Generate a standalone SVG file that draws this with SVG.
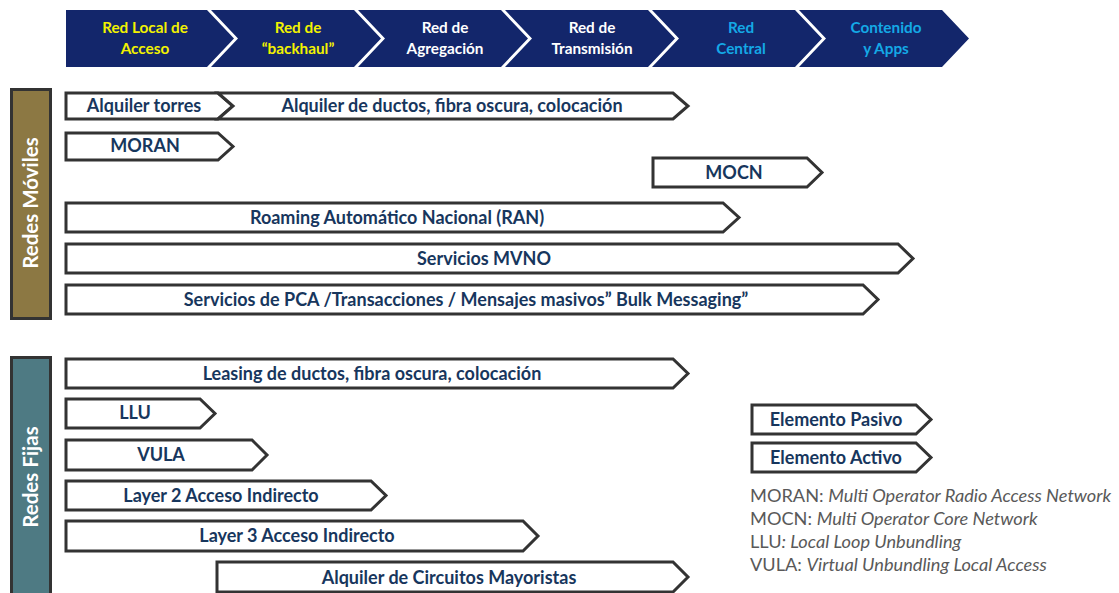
<svg xmlns="http://www.w3.org/2000/svg" width="1119" height="593" viewBox="0 0 1119 593">
<style>
.chev{fill:#13266b}
.ht{font-family:Lato,"Open Sans",sans-serif;font-weight:bold;font-size:15.3px;text-anchor:middle}
.y{fill:#f2f200}.w{fill:#ffffff}.c{fill:#14a9e6}
.box{fill:#ffffff;stroke:#333333;stroke-width:3;stroke-linejoin:miter}
.bt{font-family:Lato,"Open Sans",sans-serif;font-weight:bold;font-size:18px;fill:#17365d;text-anchor:middle}
.side{stroke:#333333;stroke-width:3}
.st{font-family:Lato,"Open Sans",sans-serif;font-weight:bold;font-size:20.5px;fill:#ffffff;text-anchor:middle}
.lg{font-family:Lato,"Open Sans",sans-serif;font-size:18.2px;fill:#595959}
.lg tspan.i{font-style:italic}
</style>
<rect width="1119" height="593" fill="#ffffff"/>
<g id="header">
<polygon class="chev" points="66,10 207,10 234,38.5 207,67 66,67"/>
<polygon class="chev" points="211,10 354,10 381,38.5 354,67 211,67 238,38.5"/>
<polygon class="chev" points="358,10 501,10 528,38.5 501,67 358,67 385,38.5"/>
<polygon class="chev" points="505,10 648,10 675,38.5 648,67 505,67 532,38.5"/>
<polygon class="chev" points="652,10 795,10 822,38.5 795,67 652,67 679,38.5"/>
<polygon class="chev" points="799,10 942,10 969,38.5 942,67 799,67 826,38.5"/>
<text class="ht y" x="145" y="33">Red Local de</text><text class="ht y" x="145" y="54">Acceso</text>
<text class="ht y" x="298" y="33">Red de</text><text class="ht y" x="298" y="54">“backhaul”</text>
<text class="ht w" x="445" y="33">Red de</text><text class="ht w" x="445" y="54">Agregación</text>
<text class="ht w" x="592" y="33">Red de</text><text class="ht w" x="592" y="54">Transmisión</text>
<text class="ht c" x="741" y="33">Red</text><text class="ht c" x="741" y="54">Central</text>
<text class="ht c" x="886" y="33">Contenido</text><text class="ht c" x="886" y="54">y Apps</text>
</g>
<g id="redes-moviles">
<rect class="side" x="11.5" y="89.5" width="39" height="229" fill="#8c7843"/>
<text class="st" transform="translate(38,203) rotate(-90)">Redes Móviles</text>
</g>
<g id="redes-fijas">
<rect class="side" x="11.5" y="357.5" width="39" height="240" fill="#4e7a83"/>
<text class="st" transform="translate(38,477) rotate(-90)">Redes Fijas</text>
</g>
<g id="alquiler-torres">
<polygon class="box" points="66,93 218,93 233,106 218,119 66,119"/>
<text class="bt" x="144" y="112">Alquiler torres</text>
</g>
<g id="alquiler-ductos">
<polygon class="box" points="218,93 673,93 688,106 673,119 218,119 233,106"/>
<text class="bt" x="452" y="112">Alquiler de ductos, fibra oscura, colocación</text>
</g>
<g id="moran">
<polygon class="box" points="66,133 218,133 233,146.5 218,160 66,160"/>
<text class="bt" x="145" y="152">MORAN</text>
</g>
<g id="mocn">
<polygon class="box" points="653,158 807,158 822,172.5 807,187 653,187"/>
<text class="bt" x="734" y="179">MOCN</text>
</g>
<g id="ran">
<polygon class="box" points="66,203 723,203 739,217.5 723,232 66,232"/>
<text class="bt" x="397" y="224">Roaming Automático Nacional (RAN)</text>
</g>
<g id="mvno">
<polygon class="box" points="66,244 898,244 913,258.5 898,273 66,273"/>
<text class="bt" x="484" y="265">Servicios MVNO</text>
</g>
<g id="pca">
<polygon class="box" points="66,285 863,285 878,299.5 863,314 66,314"/>
<text class="bt" x="466" y="306">Servicios de PCA /Transacciones / Mensajes masivos” Bulk Messaging”</text>
</g>
<g id="leasing">
<polygon class="box" points="66,359 673,359 688,373.5 673,388 66,388"/>
<text class="bt" x="372" y="380">Leasing de ductos, fibra oscura, colocación</text>
</g>
<g id="llu">
<polygon class="box" points="66,399 200,399 215,413.5 200,428 66,428"/>
<text class="bt" x="135" y="419">LLU</text>
</g>
<g id="vula">
<polygon class="box" points="66,440 252,440 267,455 252,470 66,470"/>
<text class="bt" x="161" y="461">VULA</text>
</g>
<g id="layer2">
<polygon class="box" points="66,481 371,481 386,495.5 371,510 66,510"/>
<text class="bt" x="221" y="502">Layer 2 Acceso Indirecto</text>
</g>
<g id="layer3">
<polygon class="box" points="66,521 523,521 538,536 523,551 66,551"/>
<text class="bt" x="297" y="542">Layer 3 Acceso Indirecto</text>
</g>
<g id="circuitos">
<polygon class="box" points="217,562 673,562 688,577 673,592 217,592"/>
<text class="bt" x="449" y="584">Alquiler de Circuitos Mayoristas</text>
</g>
<g id="elemento-pasivo">
<polygon class="box" points="752,405 916,405 931,419.5 916,434 752,434"/>
<text class="bt" x="836" y="426">Elemento Pasivo</text>
</g>
<g id="elemento-activo">
<polygon class="box" points="752,443 916,443 931,457.5 916,472 752,472"/>
<text class="bt" x="836" y="464">Elemento Activo</text>
</g>
<g id="connectors"></g>
<g id="legend">
<text class="lg" x="750" y="502">MORAN: <tspan class="i">Multi Operator Radio Access Network</tspan></text>
<text class="lg" x="750" y="525">MOCN: <tspan class="i">Multi Operator Core Network</tspan></text>
<text class="lg" x="750" y="548">LLU<tspan class="i">: Local Loop Unbundling</tspan></text>
<text class="lg" x="750" y="571">VULA: <tspan class="i">Virtual Unbundling Local Access</tspan></text>
</g>
</svg>
